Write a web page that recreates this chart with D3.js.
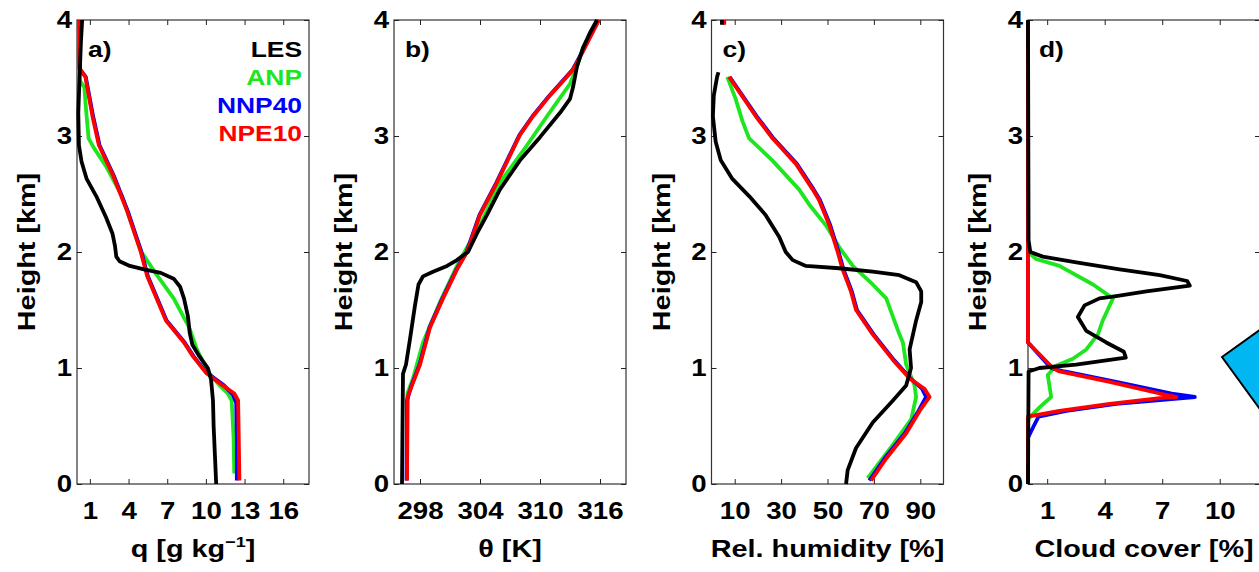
<!DOCTYPE html>
<html>
<head>
  <meta charset="utf-8">
  <title>Profiles</title>
  <style>
    body { margin: 0; background: #fff; }
    svg { display: block; }
    text { font-family: "Liberation Sans", Arial, sans-serif; font-weight: bold; fill: #000; }
  </style>
</head>
<body>
  <div id="plot"></div>
  <script src="https://cdn.jsdelivr.net/npm/d3@7"></script>
  <script>

    // [height km, value]
    const heightTicks = [0, 1, 2, 3, 4];
    const seriesNames = ['LES', 'ANP', 'NNP40', 'NPE10'];
    const seriesColors = ['#000000', '#1ee61e', '#0000ff', '#ff0000'];

    // a) specific humidity
    const qTicks = [1, 4, 7, 10, 13, 16];
    const qLES = [[0,10.8],[0.25,10.7],[0.5,10.6],[0.72,10.55],[0.9,10.4],[1.0,10.15],[1.1,9.5],[1.2,8.95],[1.3,8.75],[1.45,8.6],[1.6,8.3],[1.7,8.0],[1.77,7.5],[1.82,6.5],[1.85,5.2],[1.88,4.1],[1.92,3.3],[1.96,3.05],[2.05,2.95],[2.16,2.75],[2.3,2.25],[2.48,1.5],[2.63,0.75],[2.78,0.35],[2.92,0.15],[3.2,0.1],[3.5,0.2],[3.8,0.3],[4.0,0.4]];
    const qANP = [[0.09,12.2],[0.4,12.15],[0.72,12.0],[0.78,11.7],[0.85,11.06],[0.97,10.15],[1.16,9.3],[1.35,8.7],[1.6,7.5],[1.8,6.2],[2.0,5.0],[2.22,4.3],[2.48,3.5],[2.73,2.3],[2.9,1.3],[2.98,0.9],[3.23,0.7],[3.42,0.57],[3.48,0.2],[4.0,0.2]];
    const qNNP40 = [[0.03,12.4],[0.4,12.4],[0.7,12.35],[0.77,12.1],[0.85,11.4],[0.96,10.05],[1.1,9.05],[1.22,8.35],[1.41,6.95],[1.54,6.45],[1.79,5.5],[2.0,5.0],[2.35,3.95],[2.66,2.85],[2.92,1.75],[3.17,1.25],[3.51,0.68],[3.58,0.2],[4.0,0.2]];
    const qNPE10 = [[0.03,12.6],[0.4,12.55],[0.72,12.5],[0.78,12.2],[0.85,11.3],[0.96,10.0],[1.1,9.0],[1.22,8.3],[1.41,6.9],[1.54,6.4],[1.79,5.45],[2.0,4.95],[2.35,3.9],[2.66,2.8],[2.92,1.7],[3.17,1.2],[3.51,0.65],[3.58,0.2],[4.0,0.2]];

    // b) potential temperature
    const thTicks = [298, 304, 310, 316];
    const thLES = [[0,296.2],[0.5,296.25],[0.95,296.3],[1.03,296.6],[1.25,297.0],[1.54,297.5],[1.72,297.85],[1.79,298.3],[1.83,299.3],[1.88,300.7],[1.93,301.7],[1.97,302.3],[2.0,302.8],[2.16,303.7],[2.32,304.7],[2.54,306],[2.79,308],[2.99,310],[3.2,312],[3.32,313],[3.42,313.3],[3.6,313.7],[3.76,314.3],[3.89,315],[4.0,315.7]];
    const thANP = [[0.05,296.7],[0.78,296.75],[0.91,297.3],[1.22,298.3],[1.57,300],[1.88,301.7],[2.04,302.7],[2.23,304],[2.6,306],[2.92,308.7],[3.17,310.7],[3.45,313],[3.6,313.7],[3.76,314.3],[4.0,315.8]];
    const thNNP40 = [[0.03,296.65],[0.72,296.7],[0.85,297.15],[1.03,297.95],[1.35,298.95],[1.6,300.25],[1.85,301.65],[2.0,302.65],[2.32,303.95],[2.6,305.65],[3.01,307.95],[3.17,309.25],[3.35,310.95],[3.57,313.25],[3.73,314.25],[4.0,315.85]];
    const thNPE10 = [[0.03,296.7],[0.75,296.75],[0.85,297.2],[1.03,298],[1.35,299],[1.6,300.3],[1.85,301.7],[2.0,302.7],[2.32,304],[2.6,305.7],[3.01,308],[3.17,309.3],[3.35,311],[3.57,313.3],[3.73,314.3],[4.0,315.9]];

    // c) relative humidity
    const rhTicks = [10, 30, 50, 70, 90];
    const rhLES = [[0,58],[0.12,58.7],[0.31,62.3],[0.53,69.5],[0.72,78.2],[0.85,83.9],[1.0,86],[1.16,85.4],[1.41,88.2],[1.57,90.4],[1.66,90.4],[1.74,88.2],[1.8,81],[1.83,69.5],[1.86,55],[1.88,40.7],[1.93,35],[2.0,32],[2.13,29.2],[2.32,23.3],[2.48,16.3],[2.63,9],[2.79,4],[2.95,1.8],[3.17,0.6],[3.35,1],[3.51,2.4],[3.55,3],null,[3.96,4.5],[4.0,4.5]];
    const rhANP = [[0.05,67.3],[0.34,78.2],[0.56,86.1],[0.75,88.2],[0.85,87.5],[1.03,83.9],[1.22,82.5],[1.29,81],[1.6,75.3],[1.72,69.5],[1.88,60.9],[2.04,55.1],[2.23,49.3],[2.41,42.1],[2.54,37.7],[2.79,26.2],[2.98,16.2],[3.13,13.3],[3.32,10.4],[3.51,6.8]];
    const rhNNP40 = [[0.03,68],[0.22,74.6],[0.44,83.4],[0.63,89.2],[0.75,92.5],[0.82,90.8],[0.91,85.8],[1.07,78.6],[1.29,69.9],[1.5,62.7],[1.66,60.5],[1.85,56.9],[2.0,54.8],[2.23,51.2],[2.45,46.7],[2.54,44],[2.76,36.8],[2.98,26.7],[3.17,19.5],[3.51,7.8]];
    const rhNPE10 = [[0.03,68.8],[0.22,75.3],[0.44,84],[0.63,89.7],[0.75,94],[0.82,91.8],[0.91,85.4],[1.07,78.2],[1.29,69.5],[1.5,62.3],[1.66,60.1],[1.85,56.5],[2.0,54.4],[2.23,50.8],[2.45,46.3],[2.54,43.6],[2.76,36.4],[2.98,26.3],[3.17,19.1],[3.51,7.6],null,[3.96,5.5],[4.0,5.5]];

    // d) cloud cover
    const ccTicks = [1, 4, 7, 10];
    const ccLES = [[0,0],[0.97,0.03],[1.0,0.6],[1.03,2.5],[1.07,4.26],[1.09,5.1],[1.14,5.0],[1.22,4.08],[1.32,3.04],[1.44,2.6],[1.54,2.95],[1.6,3.73],[1.62,4.6],[1.66,6.17],[1.71,8.44],[1.75,8.3],[1.8,6.87],[1.85,4.78],[1.91,2.52],[1.96,0.77],[2.0,0.12],[2.1,0.03],[4.0,0]];
    const ccANP = [[0,0],[0.56,0],[0.66,0.6],[0.75,1.21],[0.94,1.03],[1.02,1.47],[1.08,2.34],[1.16,3.04],[1.29,3.65],[1.41,3.9],[1.6,4.43],[1.72,3.39],[1.88,1.64],[1.94,0.42],[2.0,0],[4.0,0]];
    const ccNNP40 = [[0,0],[0.4,0],[0.5,0.3],[0.58,0.55],[0.63,2.0],[0.69,4.6],[0.75,8.7],[0.78,7.5],[0.88,4.6],[0.97,1.9],[1.0,1.2],[1.22,0],[4.0,0]];
    const ccNPE10 = [[0,0],[0.58,0],[0.63,1.64],[0.69,4.26],[0.74,6.87],[0.75,7.74],[0.78,6.87],[0.88,4.26],[0.97,1.64],[1.0,1.3],[1.22,0],[4.0,0]];

    function translate(x, y) {
      return 'translate(' + x + ', ' + y + ')';
    }

    let stretch = ' scale(1.2, 1)';
    let svgWidth = 1259;
    let svgHeight = 572;
    let plotTop = 20;
    let plotBottom = 484;
    let plotWidth = 232;

    let svg = d3.select('#plot')
      .append('svg')
        .attr('width', svgWidth)
        .attr('height', svgHeight);

    let panels = [
      {left: 77, domain: [0, 18], ticks: qTicks, tag: 'a)', series: [qLES, qANP, qNNP40, qNPE10]},
      {left: 394, domain: [295.4, 318.6], ticks: thTicks, tag: 'b)', label: '\u03b8 [K]', series: [thLES, thANP, thNNP40, thNPE10]},
      {left: 711.5, domain: [0, 100], ticks: rhTicks, tag: 'c)', label: 'Rel. humidity [%]', series: [rhLES, rhANP, rhNNP40, rhNPE10]},
      {left: 1028, domain: [0, 12.1], ticks: ccTicks, tag: 'd)', label: 'Cloud cover [%]', series: [ccLES, ccANP, ccNNP40, ccNPE10]}
    ];

    let y = d3.scaleLinear().domain([0, 4]).range([plotBottom, plotTop]);

    function styleAxis(g) {
      g.select('.domain').remove();
      g.selectAll('.tick line').attr('stroke', '#222').attr('stroke-width', 1);
      g.selectAll('.tick text').style('font-size', '23px');
    }

    panels.forEach(function(p) {
      let g = svg.append('g').attr('transform', translate(p.left, 0));
      let x = d3.scaleLinear().domain(p.domain).range([0, plotWidth]);

      g.append('rect')
        .attr('x', 0)
        .attr('y', plotTop)
        .attr('width', plotWidth)
        .attr('height', plotBottom - plotTop)
        .attr('fill', 'none')
        .attr('stroke', '#333')
        .attr('stroke-width', 1.2);

      g.append('g')
        .attr('transform', translate(0, plotBottom))
        .call(d3.axisBottom(x).tickValues(p.ticks).tickSizeInner(-5).tickSizeOuter(0).tickPadding(19))
        .call(styleAxis)
        .selectAll('.tick text').attr('transform', stretch);

      g.append('g')
        .attr('transform', translate(0, plotTop))
        .call(d3.axisTop(x).tickValues(p.ticks).tickSizeInner(-5).tickSizeOuter(0).tickFormat(''))
        .call(styleAxis);

      g.append('g')
        .call(d3.axisLeft(y).tickValues(heightTicks).tickSizeInner(-5).tickSizeOuter(0).tickPadding(4).tickFormat(d3.format('d')))
        .call(styleAxis)
        .selectAll('.tick text').attr('transform', stretch);

      g.append('g')
        .attr('transform', translate(plotWidth, 0))
        .call(d3.axisRight(y).tickValues(heightTicks).tickSizeInner(-5).tickSizeOuter(0).tickFormat(''))
        .call(styleAxis);

      let line = d3.line()
        .defined(d => d !== null)
        .x(d => x(d[1]))
        .y(d => y(d[0]));

      // models first, LES on top
      [1, 2, 3, 0].forEach(function(i) {
        g.append('path')
          .datum(p.series[i])
          .attr('d', line)
          .attr('fill', 'none')
          .attr('stroke', seriesColors[i])
          .attr('stroke-width', 3.8)
          .attr('stroke-linejoin', 'round');
      });

      g.append('text')
        .attr('transform', translate(11, 57) + stretch)
        .style('font-size', '22px')
        .text(p.tag);

      g.append('text')
        .attr('transform', translate(-42, (plotTop + plotBottom) / 2) + ' rotate(-90)' + stretch)
        .style('font-size', '24px')
        .style('text-anchor', 'middle')
        .text('Height [km]');

      let xLabel = g.append('text')
        .attr('transform', translate(plotWidth / 2, 557) + stretch)
        .style('font-size', '24px')
        .style('text-anchor', 'middle');
      if (p.label) {
        xLabel.text(p.label);
      } else {
        xLabel.append('tspan').text('q [g kg');
        xLabel.append('tspan').attr('dy', -10).style('font-size', '15px').text('\u22121');
        xLabel.append('tspan').attr('dy', 10).text(']');
      }
    });

    // legend in panel a
    svg.append('g')
      .selectAll('text')
      .data(seriesNames)
      .enter()
      .append('text')
        .attr('transform', (d, i) => translate(302, 57 + i * 28) + stretch)
        .style('text-anchor', 'end')
        .style('font-size', '22px')
        .style('fill', (d, i) => seriesColors[i])
        .text(d => d);

    // decoration cut by the right edge
    svg.append('polygon')
      .attr('points', '1222,357 1282,314 1330,380 1270,423')
      .attr('fill', '#00b7f1')
      .attr('stroke', '#000')
      .attr('stroke-width', 2);

  </script>
</body>
</html>
